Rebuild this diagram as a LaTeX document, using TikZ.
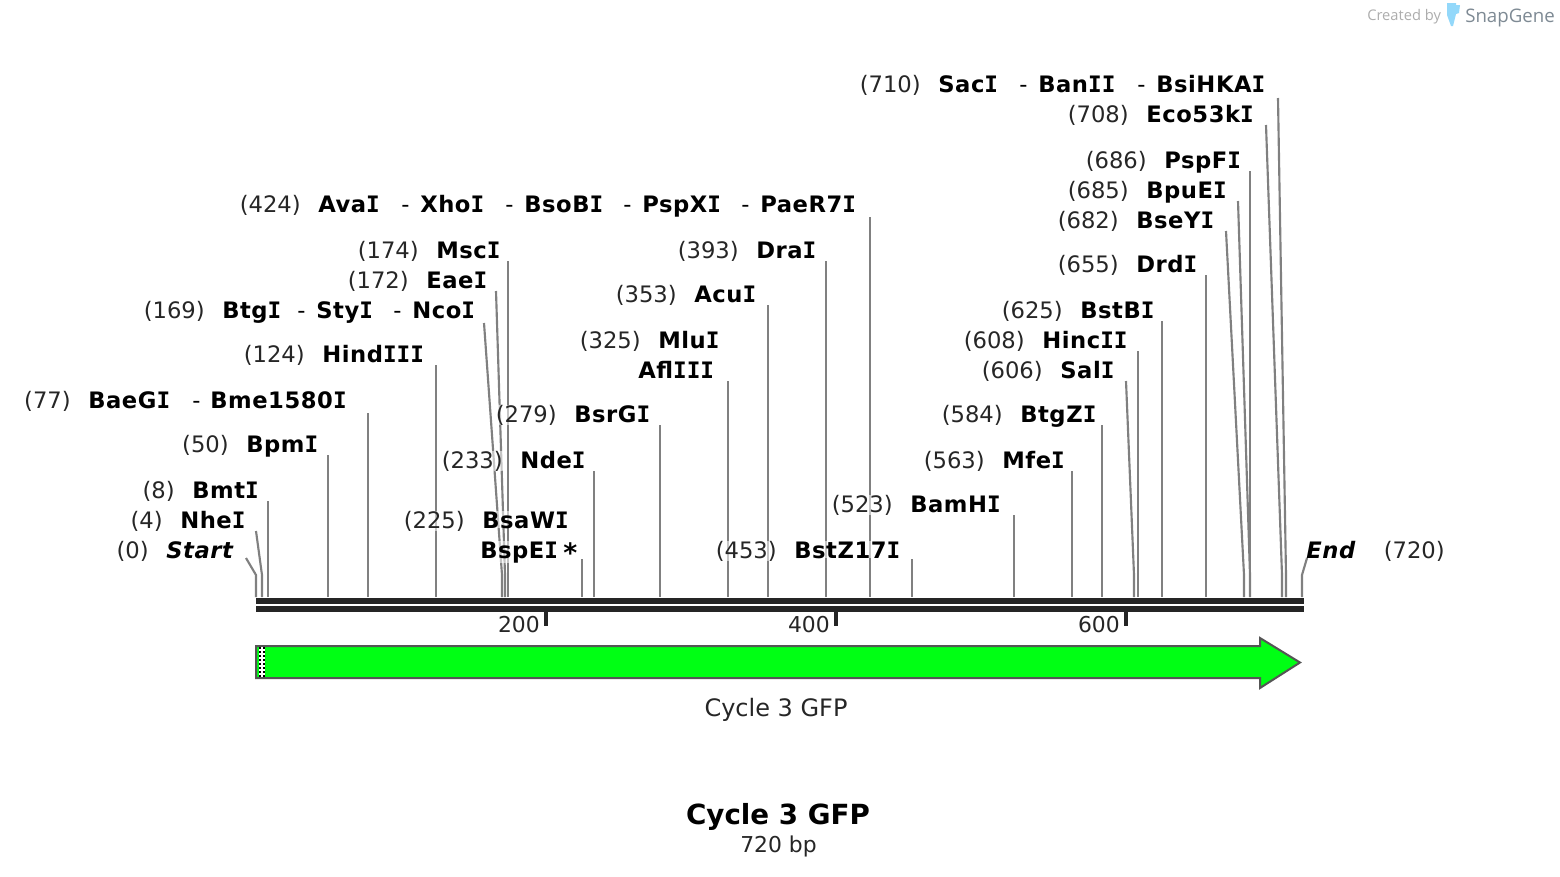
\documentclass[tikz,border=0pt]{standalone}
\usepackage{fontspec}
\setmainfont{DejaVu Sans}
\newfontfamily\logofont{Open Sans}
\newfontfamily\nmfont[LetterSpace=2.5]{DejaVu Sans Bold}
\newfontfamily\nmifont[LetterSpace=2.5]{DejaVu Sans Bold Oblique}
\newfontfamily\monob{DejaVu Sans Mono Bold}
\newcommand{\SI}{{\monob I}}
\definecolor{site}{HTML}{808080}
\definecolor{bar}{HTML}{252525}
\definecolor{gfp}{HTML}{00FF14}
\definecolor{edge}{HTML}{555555}
\definecolor{tube}{HTML}{93D8FA}
\definecolor{sgtext}{HTML}{7E8A94}
\tikzset{
 x=0.75pt,y=-0.75pt,
 num/.style={anchor=base east,inner sep=0pt,font=\fontsize{17}{17}\selectfont,text=black!85,fill=white,fill opacity=.55,text opacity=1},
 nam/.style={anchor=base west,inner sep=0pt,font=\nmfont\fontsize{17}{17}\selectfont,text=black,fill=white,fill opacity=.55,text opacity=1},
 ita/.style={anchor=base west,inner sep=0pt,font=\nmifont\fontsize{17}{17}\selectfont,text=black},
 sepdash/.style={anchor=base west,inner sep=0pt,font=\fontsize{17}{17}\selectfont,text=black},
 siteline/.style={draw=site,line width=1.6pt},
 tickmark/.style={fill=bar,draw=none},
 plain/.style={font=\fontsize{16.4}{16.4}\selectfont,text=black!85,inner sep=0pt},
}
\begin{document}
\begin{tikzpicture}
\useasboundingbox (0,0) rectangle (1560,876);
\fill[white] (0,0) rectangle (1560,876);
% site lines
\newcommand{\kink}[3]{\coordinate (k#1) at (#1,575);\coordinate (b#1) at (#1,597);\coordinate (t#1) at (#2,#3);\draw[siteline] (b#1)--(k#1)--(t#1);}
\newcommand{\stem}[2]{\coordinate (b#1) at (#1,597);\coordinate (t#1) at (#1,#2);\draw[siteline] (b#1)--(t#1);}
\kink{256}{246}{558}
\kink{262}{256}{531}
\stem{268}{501}
\stem{328}{455}
\stem{368}{413}
\stem{436}{365}
\kink{502}{484}{323}
\kink{505}{496}{291}
\stem{508}{261}
\stem{582}{559}
\stem{594}{471}
\stem{660}{425}
\stem{728}{381}
\stem{768}{305}
\stem{826}{261}
\stem{870}{217}
\stem{912}{559}
\stem{1014}{515}
\stem{1072}{471}
\stem{1102}{425}
\kink{1134}{1126}{381}
\stem{1138}{351}
\stem{1162}{321}
\stem{1206}{275}
\kink{1244}{1226}{231}
\kink{1250}{1238}{201}
\stem{1250}{171}
\kink{1282}{1266}{125}
\kink{1286}{1278}{98}
\kink{1302}{1307}{558}
% labels
\node[num] (n0) at (149,558) {(0)};
\node[ita] (s0) at (166,558) {Start};
\node[num] (n4) at (163,528) {(4)};
\node[nam] (s4) at (180,528) {Nhe\SI};
\node[num] (n8) at (175,498) {(8)};
\node[nam] (s8) at (192,498) {Bmt\SI};
\node[num] (n50) at (229,452) {(50)};
\node[nam] (s50) at (246,452) {Bpm\SI};
\node[num] (n77) at (71,408) {(77)};
\node[nam] (s77) at (88,408) {BaeG\SI};
\node[sepdash] (d77) at (192,408) {-};
\node[nam] (s77b) at (210,408) {Bme1580\SI};
\node[num] (n124) at (305,362) {(124)};
\node[nam] (s124) at (322,362) {Hind\SI\SI\SI};
\node[num] (n169) at (205,318) {(169)};
\node[nam] (s169) at (222,318) {Btg\SI};
\node[sepdash] (d169a) at (297,318) {-};
\node[nam] (s169b) at (316,318) {Sty\SI};
\node[sepdash] (d169b) at (393,318) {-};
\node[nam] (s169c) at (412,318) {Nco\SI};
\node[num] (n172) at (409,288) {(172)};
\node[nam] (s172) at (426,288) {Eae\SI};
\node[num] (n174) at (419,258) {(174)};
\node[nam] (s174) at (436,258) {Msc\SI};
\node[num] (n225) at (465,528) {(225)};
\node[nam] (s225) at (482,528) {BsaW\SI};
\node[nam] (s225b) at (480,558) {BspE\SI\hspace{4pt}\raisebox{-3.5pt}{\fontsize{20}{17}\selectfont*}};
\node[num] (n233) at (503,468) {(233)};
\node[nam] (s233) at (520,468) {Nde\SI};
\node[num] (n279) at (557,422) {(279)};
\node[nam] (s279) at (574,422) {BsrG\SI};
\node[num] (n325) at (641,348) {(325)};
\node[nam] (s325) at (658,348) {Mlu\SI};
\node[nam] (s325b) at (638,378) {Afl\SI\SI\SI};
\node[num] (n353) at (677,302) {(353)};
\node[nam] (s353) at (694,302) {Acu\SI};
\node[num] (n393) at (739,258) {(393)};
\node[nam] (s393) at (756,258) {Dra\SI};
\node[num] (n424) at (301,212) {(424)};
\node[nam] (s424) at (318,212) {Ava\SI};
\node[sepdash] (d424a) at (401,212) {-};
\node[nam] (s424b) at (420,212) {Xho\SI};
\node[sepdash] (d424b) at (505,212) {-};
\node[nam] (s424c) at (524,212) {BsoB\SI};
\node[sepdash] (d424c) at (623,212) {-};
\node[nam] (s424d) at (642,212) {PspX\SI};
\node[sepdash] (d424d) at (741,212) {-};
\node[nam] (s424e) at (760,212) {PaeR7\SI};
\node[num] (n453) at (777,558) {(453)};
\node[nam] (s453) at (794,558) {BstZ17\SI};
\node[num] (n523) at (893,512) {(523)};
\node[nam] (s523) at (910,512) {BamH\SI};
\node[num] (n563) at (985,468) {(563)};
\node[nam] (s563) at (1002,468) {Mfe\SI};
\node[num] (n584) at (1003,422) {(584)};
\node[nam] (s584) at (1020,422) {BtgZ\SI};
\node[num] (n606) at (1043,378) {(606)};
\node[nam] (s606) at (1060,378) {Sal\SI};
\node[num] (n608) at (1025,348) {(608)};
\node[nam] (s608) at (1042,348) {Hinc\SI\SI};
\node[num] (n625) at (1063,318) {(625)};
\node[nam] (s625) at (1080,318) {BstB\SI};
\node[num] (n655) at (1119,272) {(655)};
\node[nam] (s655) at (1136,272) {Drd\SI};
\node[num] (n682) at (1119,228) {(682)};
\node[nam] (s682) at (1136,228) {BseY\SI};
\node[num] (n685) at (1129,198) {(685)};
\node[nam] (s685) at (1146,198) {BpuE\SI};
\node[num] (n686) at (1147,168) {(686)};
\node[nam] (s686) at (1164,168) {PspF\SI};
\node[num] (n708) at (1129,122) {(708)};
\node[nam] (s708) at (1146,122) {Eco53k\SI};
\node[num] (n710) at (921,92) {(710)};
\node[nam] (s710) at (938,92) {Sac\SI};
\node[sepdash] (d710a) at (1019,92) {-};
\node[nam] (s710b) at (1038,92) {Ban\SI\SI};
\node[sepdash] (d710b) at (1137,92) {-};
\node[nam] (s710c) at (1156,92) {BsiHKA\SI};
\node[ita] (s720) at (1306,558) {End};
\node[num] (n720) at (1445,558) {(720)};
% axis
\fill[bar] (256,598) rectangle (1304,604);
\fill[bar] (256,606) rectangle (1304,612);
\fill[tickmark] (544,612) rectangle (548,626);
\fill[tickmark] (834,612) rectangle (838,626);
\fill[tickmark] (1124,612) rectangle (1128,626);
\node[plain,anchor=east] (l200) at (540,625) {200};
\node[plain,anchor=east] (l400) at (830,625) {400};
\node[plain,anchor=east] (l600) at (1120,625) {600};
% feature
\draw[fill=gfp,draw=edge,line width=1.5pt,line join=miter] (256,646)--(1260,646)--(1260,638)--(1300,662.5)--(1260,688)--(1260,678)--(256,678)--cycle;
\fill[white] (259,647) rectangle (265,677);
\foreach \c in {260,264}{\draw[black,line width=1.5pt,dash pattern=on 1.5pt off 1.5pt] (\c,647)--(\c,677);}
\node[plain,font=\fontsize{18}{18}\selectfont] (feat) at (776,709.5) {Cycle 3 GFP};
% title
\node[inner sep=0pt,font=\bfseries\fontsize{20.8}{20.8}\selectfont] (title) at (778,817) {Cycle 3 GFP};
\node[plain] (bp) at (778.5,846) {720 bp};
% logo
\node[anchor=base west,inner sep=0pt,font=\logofont\fontsize{11}{11}\selectfont,text=black!32] (cb) at (1367,20) {Created by};
\fill[tube] (1447,3)--(1456,3)--(1456,5)--(1460,5)--(1459,13)--(1456,14)--(1453,26)--(1451,26)--(1447,15)--cycle;
\node[anchor=base west,inner sep=0pt,font=\logofont\fontsize{14}{14}\selectfont,text=sgtext] (sg) at (1465,22) {SnapGene};
\end{tikzpicture}
\end{document}
